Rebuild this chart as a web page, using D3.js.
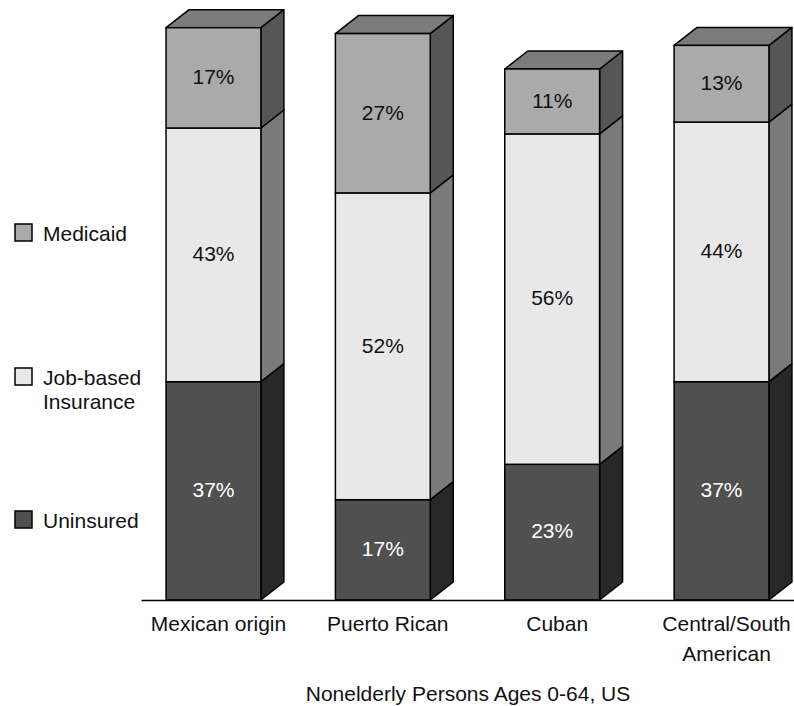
<!DOCTYPE html>
<html>
<head>
<meta charset="utf-8">
<script src="https://cdn.jsdelivr.net/npm/d3@7"></script>
<style>
  html, body { margin: 0; padding: 0; background: #fff; }
  svg { display: block; font-family: "Liberation Sans", Arial, Helvetica, sans-serif; }
</style>
</head>
<body>
<svg id="chart" width="794" height="706"></svg>
<script>
// Health coverage of nonelderly Hispanic persons, by origin (percent)
const categories = ["Mexican origin", "Puerto Rican", "Cuban", "Central/South American"];
const categoryLabels = [["Mexican origin"], ["Puerto Rican"], ["Cuban"], ["Central/South", "American"]];
const uninsured = [37, 17, 23, 37];
const jobBased = [43, 52, 56, 44];
const medicaid = [17, 27, 11, 13];

const seriesNames = ["Uninsured", "Job-based Insurance", "Medicaid"];
const legendLabels = [["Uninsured"], ["Job-based", "Insurance"], ["Medicaid"]];

// face colours per series: front, side, top
const palette = {
  "Uninsured":            { front: "#505050", side: "#282828", top: "#3a3a3a", text: "#ffffff" },
  "Job-based Insurance":  { front: "#e8e8e8", side: "#7a7a7a", top: "#b0b0b0", text: "#111111" },
  "Medicaid":             { front: "#aaaaaa", side: "#565656", top: "#7b7b7b", text: "#111111" }
};

const svg = d3.select("#chart");
const baseY = 600;
const depthX = 23, depthY = 18;
const fontSize = 21;

const x = d3.scaleBand()
  .domain(categories)
  .range([141, 794])
  .paddingInner(0.44)
  .paddingOuter(0.148);

const y = d3.scaleLinear()
  .domain([0, 100])
  .range([baseY, 10]);

// build stacked rows
const rows = categories.map((c, i) => ({
  category: c,
  "Uninsured": uninsured[i],
  "Job-based Insurance": jobBased[i],
  "Medicaid": medicaid[i]
}));
const stacked = d3.stack().keys(seriesNames)(rows);

const bars = svg.append("g").attr("class", "bars");

categories.forEach((c, ci) => {
  const x0 = x(c), x1 = x(c) + x.bandwidth();
  const g = bars.append("g");
  stacked.forEach((layer, li) => {
    const d = layer[ci];
    const yBot = y(d[0]), yTop = y(d[1]);
    const col = palette[layer.key];
    // side face
    g.append("path")
      .attr("d", `M${x1},${yTop} L${x1 + depthX},${yTop - depthY} L${x1 + depthX},${yBot - depthY} L${x1},${yBot} Z`)
      .attr("fill", col.side)
      .attr("stroke", "#000")
      .attr("stroke-width", 1.5)
      .attr("stroke-linejoin", "round");
    // top face for the highest segment
    if (li === stacked.length - 1) {
      g.append("path")
        .attr("d", `M${x0},${yTop} L${x0 + depthX},${yTop - depthY} L${x1 + depthX},${yTop - depthY} L${x1},${yTop} Z`)
        .attr("fill", col.top)
        .attr("stroke", "#000")
        .attr("stroke-width", 1.5)
        .attr("stroke-linejoin", "round");
    }
    // front face
    g.append("rect")
      .attr("x", x0)
      .attr("y", yTop)
      .attr("width", x.bandwidth())
      .attr("height", yBot - yTop)
      .attr("fill", col.front)
      .attr("stroke", "#000")
      .attr("stroke-width", 1.5);
    // value label
    g.append("text")
      .attr("x", x0 + x.bandwidth() / 2)
      .attr("y", (yTop + yBot) / 2)
      .attr("dy", "0.3em")
      .attr("text-anchor", "middle")
      .attr("font-size", fontSize)
      .attr("fill", col.text)
      .text(d.data[layer.key] + "%");
  });
});

// category axis along the base
const axis = svg.append("g")
  .attr("transform", `translate(0,${baseY})`)
  .call(d3.axisBottom(x).tickSize(0).tickSizeOuter(0).tickFormat(""));
axis.select(".domain").attr("stroke", "#000").attr("stroke-width", 1.5);
axis.selectAll(".tick text").remove();

categories.forEach((c, i) => {
  const t = svg.append("text")
    .attr("x", x(c) + x.bandwidth() / 2 + 5)
    .attr("y", 631)
    .attr("text-anchor", "middle")
    .attr("font-size", fontSize)
    .attr("fill", "#111");
  categoryLabels[i].forEach((line, li) => {
    t.append("tspan")
      .attr("x", x(c) + x.bandwidth() / 2 + 5)
      .attr("dy", li === 0 ? 0 : 29.5)
      .text(line);
  });
});

// legend
const legendY = { "Medicaid": 241, "Job-based Insurance": 385, "Uninsured": 528 };
seriesNames.forEach((s, i) => {
  const by = legendY[s];
  svg.append("rect")
    .attr("x", 15)
    .attr("y", by - 17)
    .attr("width", 17)
    .attr("height", 17)
    .attr("fill", palette[s].front)
    .attr("stroke", "#000")
    .attr("stroke-width", 1.5);
  const t = svg.append("text")
    .attr("x", 43)
    .attr("y", by)
    .attr("font-size", fontSize)
    .attr("fill", "#111");
  legendLabels[i].forEach((line, li) => {
    t.append("tspan").attr("x", 43).attr("dy", li === 0 ? 0 : 24).text(line);
  });
});

// caption
svg.append("text")
  .attr("x", 468)
  .attr("y", 701)
  .attr("text-anchor", "middle")
  .attr("font-size", fontSize)
  .attr("fill", "#111")
  .text("Nonelderly Persons Ages 0-64, US");
</script>
</body>
</html>
